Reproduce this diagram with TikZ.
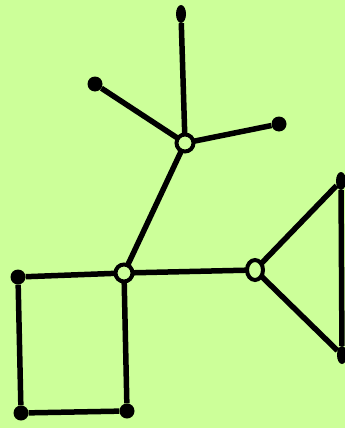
\documentclass[tikz,border=0pt]{standalone}
\usetikzlibrary{shapes.geometric}
\definecolor{bg}{HTML}{CCFF99}
\begin{document}
\begin{tikzpicture}[x=1pt,y=-1pt,
  edge/.style={line width=5.5pt,black},
  opendot/.style={circle,draw=black,line width=4pt,fill=bg,minimum size=17pt,inner sep=0pt},
  fulldot/.style={circle,fill=black,minimum size=15pt,inner sep=0pt},
  tipdot/.style={ellipse,fill=black,minimum width=10pt,minimum height=18pt,inner sep=0pt}]
\fill[bg] (0,0) rectangle (345,428);
\useasboundingbox (0,0) rectangle (345,428);
% nodes
\node[tipdot] (top) at (181,14) {};
\node[fulldot] (ul) at (95,84) {};
\node[fulldot] (rl) at (279,124) {};
\node[fulldot] (sq1) at (18,277) {};
\node[fulldot] (sq2) at (21,413) {};
\node[fulldot] (sq3) at (127,411) {};
\node[tipdot] (t1) at (341,181) {};
\node[tipdot] (t2) at (342,355) {};
% edges (behind open dots)
\coordinate (a) at (185,143);
\coordinate (b) at (124,273);
\coordinate (c) at (255,270);
\draw[edge] (top) -- (a);
\draw[edge] (ul) -- (a);
\draw[edge] (rl) -- (a);
\draw[edge] (a) -- (b);
\draw[edge] (b) -- (c);
\draw[edge] (sq1) -- (b);
\draw[edge] (b) -- (sq3);
\draw[edge] (sq1) -- (sq2);
\draw[edge] (sq2) -- (sq3);
\draw[edge] (c) -- (t1);
\draw[edge] (c) -- (t2);
\draw[edge] (t1) -- (t2);
\node[opendot] (A) at (a) {};
\node[opendot] (B) at (b) {};
\node[opendot,minimum width=16pt,minimum height=20pt,ellipse] (C) at (c) {};
\end{tikzpicture}
\end{document}
